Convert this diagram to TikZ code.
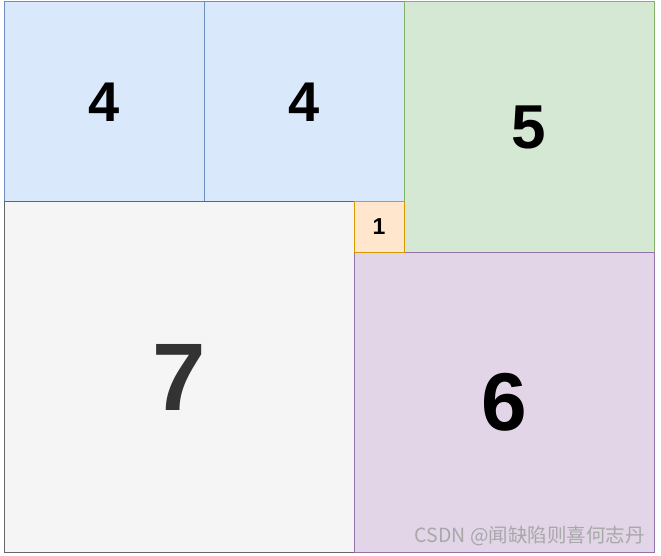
\documentclass[tikz,border=0pt]{standalone}
\usepackage{fontspec}
\setmainfont{Liberation Sans}
\newfontfamily\cjk{Noto Sans CJK SC}
\definecolor{bluef}{HTML}{DAE8FC}\definecolor{blued}{HTML}{6C8EBF}
\definecolor{greenf}{HTML}{D5E8D4}\definecolor{greend}{HTML}{82B366}
\definecolor{grayf}{HTML}{F5F5F5}\definecolor{grayd}{HTML}{666666}\definecolor{grayt}{HTML}{333333}
\definecolor{orangef}{HTML}{FFE6CC}\definecolor{ranged}{HTML}{D79B00}
\definecolor{purplef}{HTML}{E1D5E7}\definecolor{purpled}{HTML}{9673A6}
\definecolor{wmark}{HTML}{A8A8A8}
\tikzset{
  sq/.style={draw, line width=1pt, inner sep=0pt, outer sep=0pt, font=\bfseries},
  sqblue/.style={sq, fill=bluef, draw=blued},
  sqgreen/.style={sq, fill=greenf, draw=greend},
  sqgray/.style={sq, fill=grayf, draw=grayd, text=grayt},
  sqorange/.style={sq, fill=orangef, draw=ranged},
  sqpurple/.style={sq, fill=purplef, draw=purpled},
}
\begin{document}
\begin{tikzpicture}[x=1pt,y=-1pt]
\useasboundingbox (0,0) rectangle (661,556);
\fill[white] (0,0) rectangle (661,556);
\node[sqblue, minimum size=200pt, font=\fontsize{56}{60}\selectfont\bfseries] (a) at (104,102) {4};
\node[sqblue, minimum size=200pt, font=\fontsize{56}{60}\selectfont\bfseries] (b) at (304,102) {4};
\node[sqgreen, minimum size=250pt, font=\fontsize{62}{66}\selectfont\bfseries] (c) at (529,127) {5};
\node[sqgray, minimum size=350pt, font=\fontsize{96}{100}\selectfont\bfseries] (d) at (179,377) {7};
\node[sqpurple, minimum size=300pt, font=\fontsize{82}{86}\selectfont\bfseries] (e) at (504,402) {6};
\node[sqorange, minimum size=50pt, font=\fontsize{23}{26}\selectfont\bfseries] (f) at (379,227) {1};
\node[anchor=south east, inner sep=0pt, text=wmark, font=\cjk\fontsize{19.5}{22}\selectfont] (w) at (645,546) {CSDN @闻缺陷则喜何志丹};
\end{tikzpicture}
\end{document}
